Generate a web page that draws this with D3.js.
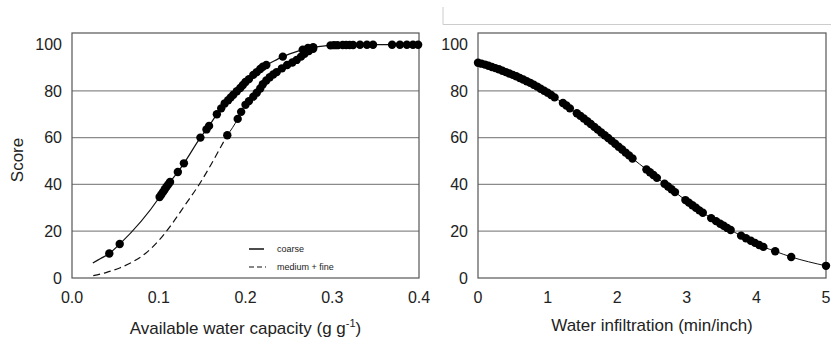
<!DOCTYPE html>
<html>
<head>
<meta charset="utf-8">
<script src="https://cdn.jsdelivr.net/npm/d3@7"></script>
<style>
  body { margin: 0; background: #fff; }
  text { font-family: "Liberation Sans", Arial, sans-serif; fill: #222; }
</style>
</head>
<body>
<div id="chart"></div>
<script>
// score ticks shared by both panels
const scoreTicks = [0, 20, 40, 60, 80, 100];
const awcTicks = [0, 0.1, 0.2, 0.3, 0.4];
const infilTicks = [0, 1, 2, 3, 4, 5];

const coarseFit = [[0.024, 6.4], [0.033, 8.3]];
const coarsePoints = [
  [0.043, 10.5], [0.055, 14.5], [0.101, 34.6], [0.103, 35.7], [0.105, 36.8],
  [0.107, 37.9], [0.109, 39.0], [0.111, 40.0], [0.113, 41.0], [0.122, 45.3],
  [0.129, 49.0], [0.148, 60.0], [0.155, 63.5], [0.158, 65.0], [0.167, 70.0],
  [0.172, 72.5], [0.176, 74.6], [0.180, 76.0], [0.183, 77.2], [0.186, 78.3],
  [0.190, 79.8], [0.194, 81.2], [0.197, 82.5], [0.200, 83.8], [0.204, 85.0],
  [0.209, 86.8], [0.213, 88.0], [0.217, 89.3], [0.220, 90.3], [0.224, 91.0],
  [0.243, 94.6], [0.266, 97.6], [0.272, 98.3], [0.278, 98.6],
  [0.298, 99.4], [0.302, 99.5], [0.306, 99.5], [0.312, 99.6], [0.316, 99.6],
  [0.320, 99.6], [0.324, 99.6], [0.332, 99.7], [0.340, 99.7], [0.347, 99.7],
  [0.369, 99.7], [0.378, 99.7], [0.386, 99.7], [0.393, 99.7], [0.399, 99.7]
];
const mediumFit = [
  [0.0245, 1.0], [0.040, 2.4], [0.055, 4.3], [0.070, 6.9], [0.085, 10.6],
  [0.100, 16.0], [0.115, 23.0], [0.130, 31.0], [0.1475, 40.5], [0.160, 48.3],
  [0.170, 55.0], [0.179, 61.0]
];
const mediumPoints = [
  [0.179, 61.0], [0.191, 68.0], [0.195, 71.0], [0.200, 74.0], [0.204, 75.6],
  [0.209, 77.5], [0.213, 79.2], [0.217, 81.0], [0.220, 82.8], [0.224, 84.4],
  [0.228, 85.8], [0.232, 87.0], [0.236, 88.0], [0.242, 89.6], [0.248, 91.0],
  [0.254, 92.1], [0.259, 93.2], [0.264, 94.6], [0.268, 95.8], [0.273, 97.0],
  [0.278, 98.0]
];
const infilPoints = [
  [0.00, 92.0], [0.05, 91.6], [0.10, 91.2], [0.15, 90.7], [0.20, 90.2],
  [0.25, 89.7], [0.30, 89.2], [0.35, 88.6], [0.40, 88.0], [0.45, 87.4],
  [0.50, 86.8], [0.55, 86.2], [0.60, 85.5], [0.65, 84.8], [0.70, 84.1],
  [0.75, 83.4], [0.80, 82.6], [0.85, 81.8], [0.90, 80.9], [0.95, 80.0],
  [1.00, 79.2], [1.05, 78.2], [1.10, 77.2],
  [1.22, 74.8], [1.27, 73.7], [1.32, 72.5],
  [1.42, 70.4], [1.47, 69.3], [1.52, 68.2], [1.57, 67.0], [1.62, 65.8],
  [1.67, 64.6], [1.72, 63.4], [1.77, 62.2], [1.82, 61.0], [1.87, 59.8],
  [1.92, 58.6], [1.97, 57.4], [2.02, 56.1], [2.07, 54.9], [2.12, 53.6],
  [2.17, 52.4], [2.22, 51.1],
  [2.42, 46.4], [2.47, 45.2], [2.52, 44.0], [2.57, 42.8],
  [2.68, 40.3], [2.73, 39.1], [2.78, 37.9], [2.83, 36.7],
  [2.98, 33.3], [3.03, 32.2], [3.08, 31.1], [3.13, 30.0], [3.18, 28.9], [3.23, 27.9],
  [3.35, 25.6], [3.42, 24.3], [3.48, 23.2], [3.53, 22.3], [3.58, 21.4], [3.63, 20.5],
  [3.78, 18.1], [3.85, 17.0], [3.92, 15.9], [3.98, 15.0], [4.04, 14.1], [4.10, 13.3],
  [4.27, 11.4], [4.50, 9.0], [5.00, 5.2]
];

const width = 831;
const height = 339;

const svg = d3.select('#chart').append('svg')
    .attr('width', width)
    .attr('height', height);

const y = d3.scaleLinear().domain([0, 100]).range([278, 44]);
const frameTop = 33;

function drawPanel(x, ticks, fmt, tickY, titleY) {
    const [x0, x1] = x.range();
    const g = svg.append('g');

    g.selectAll('line.grid')
        .data(scoreTicks.slice(1, -1))
        .enter().append('line')
        .attr('x1', x0).attr('x2', x1)
        .attr('y1', d => y(d)).attr('y2', d => y(d))
        .attr('stroke', '#8a8a8a').attr('stroke-width', 1.2);

    g.append('rect')
        .attr('x', x0).attr('y', frameTop)
        .attr('width', x1 - x0).attr('height', y(0) - frameTop)
        .attr('fill', 'none').attr('stroke', '#555').attr('stroke-width', 1.2);

    g.selectAll('text.ytick')
        .data(scoreTicks)
        .enter().append('text')
        .attr('x', x0 - 10).attr('y', d => y(d)).attr('dy', '0.36em')
        .attr('text-anchor', 'end').attr('font-size', 16)
        .text(d => d);

    g.selectAll('text.xtick')
        .data(ticks)
        .enter().append('text')
        .attr('x', d => x(d)).attr('y', tickY)
        .attr('text-anchor', 'middle').attr('font-size', 16)
        .text(fmt);

    const t = g.append('text')
        .attr('x', (x0 + x1) / 2).attr('y', titleY)
        .attr('text-anchor', 'middle').attr('font-size', 17);
    return { g, t };
}

// left panel: available water capacity
const xAwc = d3.scaleLinear().domain([0, 0.4]).range([72, 419]);
const left = drawPanel(xAwc, awcTicks, d3.format('.1f'), 303, 334);
left.t.append('tspan').text('Available water capacity (g g');
left.t.append('tspan').attr('font-size', 11).attr('dy', -7).text('-1');
left.t.append('tspan').attr('dy', 7).text(')');

const lineAwc = d3.line().x(d => xAwc(d[0])).y(d => y(d[1])).curve(d3.curveMonotoneX);

left.g.append('path')
    .attr('d', lineAwc(mediumFit))
    .attr('fill', 'none').attr('stroke', '#111').attr('stroke-width', 1.2)
    .attr('stroke-dasharray', '7,4');
left.g.append('path')
    .attr('d', lineAwc(mediumPoints))
    .attr('fill', 'none').attr('stroke', '#111').attr('stroke-width', 1);
left.g.append('path')
    .attr('d', lineAwc(coarseFit.concat(coarsePoints)))
    .attr('fill', 'none').attr('stroke', '#111').attr('stroke-width', 1.2);

left.g.selectAll('circle.m')
    .data(mediumPoints)
    .enter().append('circle')
    .attr('cx', d => xAwc(d[0])).attr('cy', d => y(d[1])).attr('r', 4.2)
    .attr('fill', '#000');
left.g.selectAll('circle.c')
    .data(coarsePoints)
    .enter().append('circle')
    .attr('cx', d => xAwc(d[0])).attr('cy', d => y(d[1])).attr('r', 4.2)
    .attr('fill', '#000');

// legend
const legend = left.g.append('g');
legend.append('line').attr('x1', 249).attr('x2', 264).attr('y1', 249).attr('y2', 249)
    .attr('stroke', '#111').attr('stroke-width', 1.5);
legend.append('line').attr('x1', 249).attr('x2', 266).attr('y1', 267).attr('y2', 267)
    .attr('stroke', '#111').attr('stroke-width', 1.2).attr('stroke-dasharray', '5,3');
legend.append('text').attr('x', 277).attr('y', 252).attr('font-size', 9).text('coarse');
legend.append('text').attr('x', 277).attr('y', 270).attr('font-size', 9).text('medium + fine');

// y title
svg.append('text')
    .attr('transform', 'translate(23,160) rotate(-90)')
    .attr('text-anchor', 'middle').attr('font-size', 17)
    .text('Score');

// right panel: water infiltration
const xInf = d3.scaleLinear().domain([0, 5]).range([478, 826]);
const right = drawPanel(xInf, infilTicks, d3.format('d'), 303, 331);
right.t.text('Water infiltration (min/inch)');

const lineInf = d3.line().x(d => xInf(d[0])).y(d => y(d[1])).curve(d3.curveMonotoneX);
right.g.append('path')
    .attr('d', lineInf(infilPoints))
    .attr('fill', 'none').attr('stroke', '#111').attr('stroke-width', 1);
right.g.selectAll('circle')
    .data(infilPoints)
    .enter().append('circle')
    .attr('cx', d => xInf(d[0])).attr('cy', d => y(d[1])).attr('r', 4.2)
    .attr('fill', '#000');

// thin border left over from the source crop
svg.append('path')
    .attr('d', 'M443,7V24.5H831')
    .attr('fill', 'none').attr('stroke', '#ccc').attr('stroke-width', 1);
</script>
</body>
</html>
